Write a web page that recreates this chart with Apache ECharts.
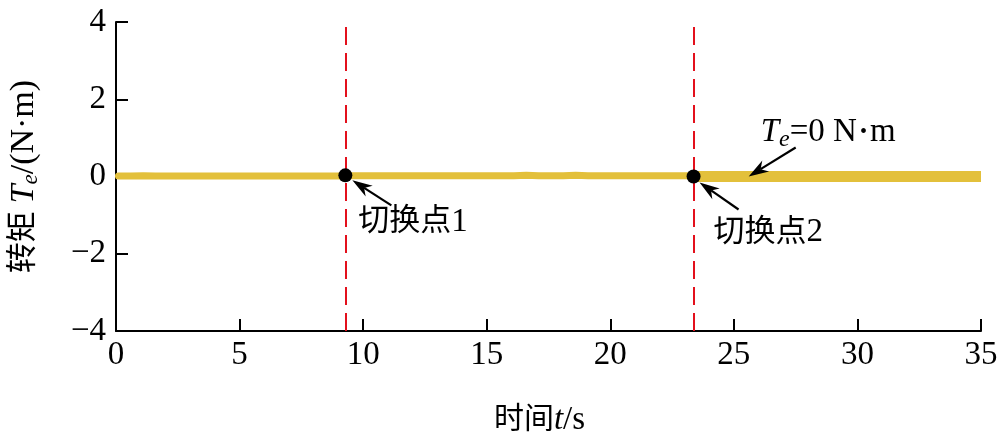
<!DOCTYPE html>
<html><head><meta charset="utf-8">
<script src="https://cdn.jsdelivr.net/npm/echarts@6/dist/echarts.min.js"></script>
<style>html,body{margin:0;padding:0;background:#fff}#c{width:1000px;height:436px}</style>
</head><body><div id="c"></div>
<script>
// ---- data ----
const xTicks = [0, 5, 10, 15, 20, 25, 30, 35];
const yTicks = [-4, -2, 0, 2, 4];
const torqueTime1 = [0.1,0.6,1.1,1.6,2.1,2.6,3.1,3.6,4.1,4.6,5.1,5.6,6.1,6.6,7.1,7.6,8.1,8.6,9.1,9.6,10.1,10.6,11.1,11.6,12.1,12.6,13.1,13.6,14.1,14.6,15.1,15.6,16.1,16.6,17.1,17.6,18.1,18.6,19.1,19.6,20.1,20.6,21.1,21.6,22.1,22.6,23.1,23.37];
const torque1 = [0.01,0.01,0.02,0.01,0.01,0.01,0.01,0.01,0.01,0.01,0.01,0.01,0.01,0.01,0.01,0.01,0.01,0.01,0.01,0.02,0.02,0.02,0.02,0.02,0.02,0.02,0.02,0.02,0.02,0.02,0.02,0.02,0.02,0.03,0.02,0.02,0.02,0.03,0.02,0.02,0.02,0.02,0.02,0.02,0.02,0.02,0.02,0.02];
const torqueTime2 = [23.37, 35];
const torque2 = [0.0, 0.0];
const switchTimes = [9.28, 23.37];
const switchTorque = [0.03, 0.0];
const switchLabels = ['切换点1', '切换点2'];
const steadyTime = 25.6;   // where the "Te = 0" arrow points
const steadyTorque = 0.0;

const FONT = '"Liberation Serif","Noto Sans CJK SC",serif';
const BAND = '#E3C03B';
const fmtNum = v => v < 0 ? '\u2212' + Math.abs(v) : String(v);

const chart = echarts.init(document.getElementById('c'), null, {renderer: 'canvas'});
const zip = (a, b) => a.map((t, i) => [t, b[i]]);

chart.setOption({
  animation: false,
  backgroundColor: '#fff',
  grid: {left: 116, right: 19, top: 22, bottom: 105, outerBoundsMode: 'none', containLabel: false},
  xAxis: {
    type: 'value', min: xTicks[0], max: xTicks[xTicks.length - 1], interval: 5,
    axisLine: {onZero: false, lineStyle: {color: '#000', width: 2}},
    axisTick: {inside: true, length: 12, lineStyle: {color: '#000', width: 2}},
    axisLabel: {color: '#000', fontFamily: FONT, fontSize: 33, margin: 8, formatter: fmtNum},
    splitLine: {show: false},
    name: '{cn|时间}{it|t}{n|/s}', nameLocation: 'middle', nameGap: 73,
    nameTextStyle: {
      padding: [0, 18, 0, 0],
      rich: {
        cn: {fontFamily: FONT, fontSize: 30, color: '#000'},
        it: {fontFamily: FONT, fontSize: 33, fontStyle: 'italic', color: '#000'},
        n: {fontFamily: FONT, fontSize: 33, color: '#000'}
      }
    }
  },
  yAxis: {
    type: 'value', min: yTicks[0], max: yTicks[yTicks.length - 1], interval: 2,
    axisLine: {onZero: false, lineStyle: {color: '#000', width: 2}},
    axisTick: {inside: true, length: 12, lineStyle: {color: '#000', width: 2}},
    axisLabel: {color: '#000', fontFamily: FONT, fontSize: 33, margin: 10, formatter: fmtNum},
    splitLine: {show: false},
    name: '{cn|转矩 }{it|T}{sub|e}{n|/(N·m)}', nameLocation: 'middle', nameGap: 74, nameRotate: 90,
    nameTextStyle: {
      rich: {
        cn: {fontFamily: FONT, fontSize: 31, color: '#000'},
        it: {fontFamily: FONT, fontSize: 34, fontStyle: 'italic', color: '#000'},
        sub: {fontFamily: FONT, fontSize: 23, fontStyle: 'italic', color: '#000', padding: [13, 0, 0, 0]},
        n: {fontFamily: FONT, fontSize: 34, color: '#000'}
      }
    }
  },
  series: [
    {
      type: 'line', data: zip(torqueTime1, torque1), showSymbol: false, z: 2,
      lineStyle: {color: BAND, width: 7, join: 'round', cap: 'round'},
      markLine: {
        silent: true, symbol: ['none', 'none'], label: {show: false},
        lineStyle: {color: '#E3101C', width: 2, type: [18, 8], opacity: 1},
        data: switchTimes.map(t => ({xAxis: t}))
      }
    },
    {
      type: 'line', data: zip(torqueTime2, torque2), showSymbol: false, z: 2,
      lineStyle: {color: BAND, width: 11, cap: 'butt'}
    },
    {
      type: 'scatter', data: zip(switchTimes, switchTorque), symbolSize: 14, z: 5,
      itemStyle: {color: '#000', opacity: 1}
    }
  ]
});

// ---- annotations (anchored to data points through the axes) ----
function arrowEls(tail, tip) {
  const dx = tip[0] - tail[0], dy = tip[1] - tail[1];
  const len = Math.hypot(dx, dy), ux = dx / len, uy = dy / len, px = -uy, py = ux;
  const L = 20, W = 6.5, N = 6;
  const back = [tip[0] - L * ux, tip[1] - L * uy];
  const notch = [tip[0] - (L - N) * ux, tip[1] - (L - N) * uy];
  return [
    {type: 'line', shape: {x1: tail[0], y1: tail[1], x2: notch[0], y2: notch[1]},
     style: {stroke: '#000', lineWidth: 2.2}, z: 10},
    {type: 'polygon', shape: {points: [tip, [back[0] + W * px, back[1] + W * py], notch, [back[0] - W * px, back[1] - W * py]]},
     style: {fill: '#000'}, z: 10}
  ];
}
const P = (t, v) => chart.convertToPixel({xAxisIndex: 0, yAxisIndex: 0}, [t, v]);
const els = [];
const textOff = [[13, 47], [20, 56]];
const tailOff = [[46, 30], [45, 33]];
const tipOff = [[7, 5], [6, 6]];
switchTimes.forEach((t, i) => {
  const p = P(t, switchTorque[i]);
  els.push(...arrowEls([p[0] + tailOff[i][0], p[1] + tailOff[i][1]], [p[0] + tipOff[i][0], p[1] + tipOff[i][1]]));
  els.push({type: 'text', x: p[0] + textOff[i][0], y: p[1] + textOff[i][1], z: 10,
    style: {text: '{cn|' + switchLabels[i].slice(0, 3) + '}{n|' + switchLabels[i].slice(3) + '}',
      verticalAlign: 'middle', align: 'left',
      rich: {
        cn: {fontFamily: FONT, fontSize: 31, fill: '#000'},
        n: {fontFamily: FONT, fontSize: 33, fill: '#000'}
      }}});
});
const s = P(steadyTime, steadyTorque);
els.push(...arrowEls([s[0] + 47, s[1] - 29], [s[0], s[1]]));
els.push({type: 'text', x: s[0] + 12, y: s[1] - 44, z: 10,
  style: {
    text: '{it|T}{sub|e}{n|=0 N}{d|•}{n|m}', verticalAlign: 'middle', align: 'left',
    rich: {
      it: {fontFamily: FONT, fontSize: 33, fontStyle: 'italic', fill: '#000'},
      sub: {fontFamily: FONT, fontSize: 24, fontStyle: 'italic', fill: '#000', padding: [14, 0, 0, 0]},
      n: {fontFamily: FONT, fontSize: 33, fill: '#000'},
      d: {fontFamily: FONT, fontSize: 20, fill: '#000', padding: [0, 3, 0, 3]}
    }
  }});
chart.setOption({graphic: els});
</script>
</body></html>
